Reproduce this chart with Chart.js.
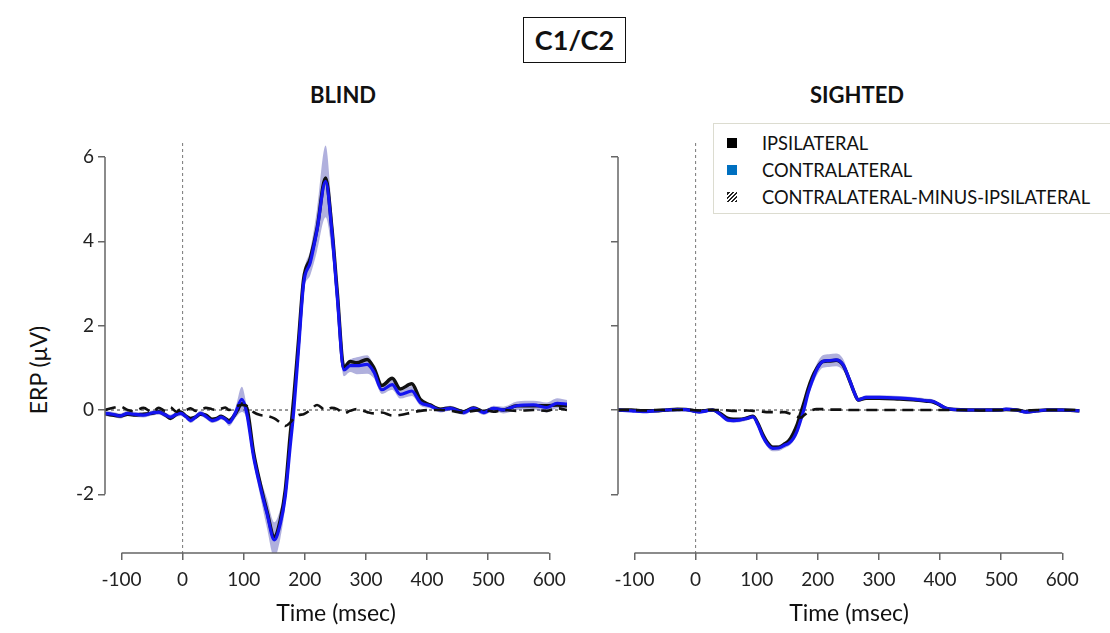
<!DOCTYPE html>
<html>
<head>
<meta charset="utf-8">
<script src="https://cdn.jsdelivr.net/npm/chart.js@4/dist/chart.umd.min.js"></script>
<style>
  body { margin: 0; background: #fff; }
  #wrap { position: relative; width: 1110px; height: 633px; font-family: Lato, sans-serif; color: #111; overflow: hidden; }
  canvas { position: absolute; top: 120px; }
  #blind { left: 0; }
  #sighted { left: 560px; }
  #mainTitle { position: absolute; left: 523px; top: 17px; width: 101px; height: 44px; border: 1.5px solid #111;
    font-weight: bold; font-size: 27px; line-height: 44px; text-align: center; }
  .panelTitle { position: absolute; top: 80px; width: 200px; height: 30px; line-height: 30px; text-align: center;
    font-weight: bold; font-size: 22px; }
  #ylab { position: absolute; left: 38px; top: 370px; transform: translate(-50%, -50%) rotate(-90deg);
    font-size: 23px; white-space: nowrap; }
  #legend { position: absolute; left: 713px; top: 123px; width: 400px; height: 89px; border: 1.5px solid #dcdcd0;
    background: #fff; z-index: 2; }
  .row { position: absolute; left: 0; height: 26px; line-height: 26px; font-size: 18.3px; }
  .row span { position: absolute; left: 48px; white-space: nowrap; }
  .mark { position: absolute; left: 13px; top: 8px; width: 10px; height: 10px; }
</style>
</head>
<body>
<div id="wrap">
  <div id="mainTitle">C1/C2</div>
  <div class="panelTitle" style="left:243px">BLIND</div>
  <div class="panelTitle" style="left:757px">SIGHTED</div>
  <div id="ylab">ERP (μV)</div>
  <canvas id="blind" width="590" height="513"></canvas>
  <canvas id="sighted" width="550" height="513"></canvas>
  <div id="legend">
    <div class="row" style="top:6px"><div class="mark" style="background:#000"></div><span>IPSILATERAL</span></div>
    <div class="row" style="top:33px"><div class="mark" style="background:#0070c0"></div><span>CONTRALATERAL</span></div>
    <div class="row" style="top:60px"><div class="mark" style="background:repeating-linear-gradient(-45deg,#222 0 1.5px,#fff 1.5px 3px)"></div><span>CONTRALATERAL-MINUS-IPSILATERAL</span></div>
  </div>
</div>
<script>
// axis ticks
const xTicks = [-100, 0, 100, 200, 300, 400, 500, 600];
const yTicks = [-2, 0, 2, 4, 6];

// BLIND (ms, µV)
const blindTime = [-127, -115, -102, -90, -80, -64, -50, -39, -28, -20,
  -10, -3, 5, 13, 21, 29, 38, 48, 56, 63,
  70, 76, 86, 97, 105, 116, 127, 138, 150, 160,
  168, 176, 182, 190, 198, 209, 220, 234, 244, 253,
  264, 274, 285, 302, 313, 326, 343, 356, 375, 389,
  405, 422, 438, 460, 476, 493, 509, 525, 547, 574,
  596, 613, 629];
const blindIpsi = [-0.08, -0.12, -0.14, -0.1, -0.12, -0.1, -0.08, -0.04, -0.12, -0.2,
  -0.1, -0.05, -0.14, -0.2, -0.17, -0.1, -0.12, -0.22, -0.2, -0.15,
  -0.2, -0.25, -0.1, 0.15, 0.05, -1.0, -1.75, -2.4, -3.0, -2.6,
  -1.9, -0.6, 0.3, 1.7, 3.1, 3.6, 4.3, 5.5, 4.35, 2.8,
  1.0, 1.15, 1.12, 1.2, 1.0, 0.58, 0.75, 0.5, 0.62, 0.25,
  0.12, 0.02, 0.05, -0.04, 0.05, -0.04, 0.03, 0.0, 0.1, 0.1,
  0.1, 0.12, 0.1];
const blindContra = [-0.08, -0.1, -0.14, -0.08, -0.1, -0.12, -0.07, -0.05, -0.12, -0.17,
  -0.1, -0.08, -0.15, -0.25, -0.17, -0.08, -0.15, -0.25, -0.22, -0.17,
  -0.22, -0.3, -0.08, 0.25, -0.08, -1.1, -1.82, -2.45, -3.08, -2.69,
  -2.05, -0.87, 0.0, 1.5, 3.0, 3.5, 4.27, 5.42, 4.27, 2.69,
  0.95, 1.05, 1.05, 1.08, 0.9, 0.48, 0.6, 0.37, 0.45, 0.18,
  0.1, 0.0, 0.04, -0.06, 0.04, -0.06, 0.04, 0.0, 0.1, 0.12,
  0.06, 0.16, 0.14];
const blindContraSE = [0.06, 0.06, 0.06, 0.06, 0.06, 0.06, 0.06, 0.06, 0.06, 0.06,
  0.06, 0.06, 0.06, 0.06, 0.06, 0.06, 0.06, 0.06, 0.06, 0.06,
  0.06, 0.08, 0.12, 0.3, 0.15, 0.15, 0.22, 0.35, 0.42, 0.35,
  0.22, 0.15, 0.12, 0.15, 0.2, 0.3, 0.5, 0.85, 0.5, 0.3,
  0.15, 0.15, 0.2, 0.22, 0.15, 0.1, 0.12, 0.1, 0.12, 0.08,
  0.06, 0.06, 0.06, 0.06, 0.06, 0.06, 0.06, 0.08, 0.1, 0.1,
  0.12, 0.12, 0.1];
const blindDiff = [0.0, 0.05, 0.08, 0.0, -0.03, 0.05, -0.05, 0.05, -0.02, 0.06,
  -0.04, 0.02, 0.0, 0.04, -0.02, 0.0, 0.05, 0.02, 0.0, 0.03,
  0.06, 0.0, 0.08, 0.12, 0.1, -0.05, -0.12, -0.14, -0.2, -0.3,
  -0.38, -0.3, -0.2, -0.12, -0.1, 0.0, 0.12, 0.0, 0.05, 0.02,
  -0.08, -0.02, 0.02, -0.05, -0.08, -0.06, -0.13, -0.12, -0.06, -0.02,
  0.0, 0.0, -0.02, -0.06, -0.02, 0.0, -0.04, 0.0, -0.02, 0.0,
  -0.02, 0.04, 0.0];

// SIGHTED
const sightedTime = [-127, -105, -86, -65, -48, -30, -16, -5, 6, 18,
  28, 40, 53, 62, 72, 84, 94, 102, 110, 118,
  126, 136, 146, 153, 160, 166, 172, 178, 184, 191,
  198, 208, 218, 230, 241, 252, 260, 266, 279, 300,
  334, 360, 378, 389, 400, 410, 425, 443, 470, 497,
  508, 525, 541, 558, 574, 600, 628];
const sightedIpsi = [0, 0, -0.02, -0.02, 0, 0.02, 0.01, -0.01, -0.03, -0.01,
  0, -0.08, -0.2, -0.22, -0.22, -0.19, -0.15, -0.32, -0.58, -0.78,
  -0.88, -0.88, -0.8, -0.72, -0.55, -0.35, -0.08, 0.2, 0.5, 0.78,
  0.98, 1.15, 1.16, 1.18, 1.07, 0.7, 0.4, 0.24, 0.28, 0.28,
  0.26, 0.24, 0.21, 0.19, 0.11, 0.04, 0.01, 0, 0, 0,
  0.01, 0, -0.04, -0.02, 0, 0, -0.02];
const sightedContra = [0, -0.02, -0.04, -0.02, 0, 0.01, 0.01, -0.02, -0.05, -0.02,
  0, -0.1, -0.24, -0.25, -0.24, -0.2, -0.16, -0.35, -0.63, -0.82,
  -0.91, -0.9, -0.83, -0.78, -0.67, -0.5, -0.24, 0.05, 0.4, 0.7,
  0.95, 1.15, 1.17, 1.19, 1.08, 0.71, 0.4, 0.24, 0.3, 0.3,
  0.28, 0.25, 0.22, 0.2, 0.12, 0.04, 0.01, 0, 0, 0,
  0.02, 0, -0.05, -0.02, 0, 0, -0.02];
const sightedContraSE = [0.03, 0.03, 0.03, 0.03, 0.03, 0.03, 0.03, 0.03, 0.03, 0.03,
  0.03, 0.04, 0.05, 0.05, 0.05, 0.05, 0.05, 0.06, 0.07, 0.07,
  0.07, 0.07, 0.07, 0.07, 0.07, 0.08, 0.08, 0.08, 0.1, 0.12,
  0.14, 0.15, 0.15, 0.15, 0.14, 0.08, 0.06, 0.05, 0.05, 0.05,
  0.05, 0.05, 0.05, 0.05, 0.04, 0.03, 0.03, 0.03, 0.03, 0.03,
  0.03, 0.03, 0.03, 0.03, 0.03, 0.03, 0.03];
const sightedDiff = [0, 0, -0.01, 0, 0, 0, 0.01, 0, -0.01, 0,
  0, 0, -0.01, -0.02, -0.02, -0.01, -0.02, -0.03, -0.04, -0.05,
  -0.05, -0.06, -0.05, -0.08, -0.12, -0.16, -0.18, -0.12, -0.05, 0,
  0.02, 0.02, 0.01, 0.01, 0.01, 0, 0, 0, 0, 0,
  0, 0, 0, 0, 0, 0, 0, 0, -0.01, 0,
  0, 0, -0.01, 0, 0, 0, 0];

function pts(xs, ys) {
    return xs.map((x, i) => ({ x: x, y: ys[i] }));
}

// dotted zero / onset lines + R-style axis spines
const refLines = {
    id: 'refLines',
    beforeDatasetsDraw(chart) {
        const { ctx, chartArea: a, scales: { x, y } } = chart;
        ctx.save();
        ctx.lineWidth = 1;
        ctx.setLineDash([3, 3]);
        ctx.strokeStyle = '#333';
        const y0 = y.getPixelForValue(0);
        ctx.beginPath(); ctx.moveTo(a.left, y0); ctx.lineTo(a.right, y0); ctx.stroke();
        ctx.strokeStyle = '#777';
        const x0 = x.getPixelForValue(0);
        ctx.beginPath(); ctx.moveTo(x0, a.top); ctx.lineTo(x0, a.bottom); ctx.stroke();
        ctx.restore();
    },
    afterDraw(chart) {
        const { ctx, chartArea: a, scales: { x, y } } = chart;
        ctx.save();
        ctx.strokeStyle = '#666';
        ctx.lineWidth = 1.5;
        ctx.beginPath();
        ctx.moveTo(x.getPixelForValue(xTicks[0]), a.bottom);
        ctx.lineTo(x.getPixelForValue(xTicks[xTicks.length - 1]), a.bottom);
        ctx.moveTo(a.left, y.getPixelForValue(yTicks[0]));
        ctx.lineTo(a.left, y.getPixelForValue(yTicks[yTicks.length - 1]));
        ctx.stroke();
        ctx.restore();
    }
};

function makePanel(canvasId, time, ipsi, contra, se, diff, yWidth, padRight, showYLabels) {
    const ctx = document.getElementById(canvasId).getContext('2d');
    const line = { pointRadius: 0, fill: false, cubicInterpolationMode: 'monotone' };
    new Chart(ctx, {
        type: 'line',
        data: {
            datasets: [
                { ...line, data: pts(time, contra.map((v, i) => v + se[i])), borderWidth: 0,
                  borderColor: 'rgba(0,0,0,0)', backgroundColor: 'rgba(80, 80, 180, 0.45)', fill: '+1', order: 4 },
                { ...line, data: pts(time, contra.map((v, i) => v - se[i])), borderWidth: 0,
                  borderColor: 'rgba(0,0,0,0)', order: 4 },
                { ...line, label: 'IPSILATERAL', data: pts(time, ipsi), borderColor: '#111', borderWidth: 3.5, order: 3 },
                { ...line, label: 'CONTRALATERAL', data: pts(time, contra), borderColor: '#1414f0', borderWidth: 3.2, order: 2 },
                { ...line, label: 'CONTRALATERAL-MINUS-IPSILATERAL', data: pts(time, diff), borderColor: '#111',
                  borderWidth: 2.6, borderDash: [11, 7], order: 1 }
            ]
        },
        options: {
            responsive: false,
            animation: false,
            layout: { padding: { top: 23, right: padRight, bottom: 0, left: 0 } },
            scales: {
                x: {
                    type: 'linear',
                    min: -127,
                    max: 629,
                    afterBuildTicks: s => { s.ticks = xTicks.map(v => ({ value: v })); },
                    afterFit: s => { s.height = 80; },
                    border: { display: false },
                    grid: { drawOnChartArea: false, drawTicks: true, tickLength: 7, color: '#666', lineWidth: 1.5 },
                    ticks: { color: '#222', font: { size: 19 }, padding: 8, maxRotation: 0 },
                    title: { display: true, text: 'Time (msec)', color: '#111', font: { size: 23 }, padding: { top: 0, bottom: 6 } }
                },
                y: {
                    min: -3.39,
                    max: 6.33,
                    afterBuildTicks: s => { s.ticks = yTicks.map(v => ({ value: v })); },
                    afterFit: s => { s.width = yWidth; },
                    border: { display: false },
                    grid: { drawOnChartArea: false, drawTicks: true, tickLength: 7, color: '#666', lineWidth: 1.5 },
                    ticks: { display: showYLabels, color: '#222', font: { size: 19 }, padding: 4 }
                }
            },
            plugins: {
                legend: { display: false },
                tooltip: { enabled: false }
            }
        },
        plugins: [refLines]
    });
}

function draw() {
    Chart.defaults.font.family = 'Lato, sans-serif';
    makePanel('blind', blindTime, blindIpsi, blindContra, blindContraSE, blindDiff, 105, 23, true);
    makePanel('sighted', sightedTime, sightedIpsi, sightedContra, sightedContraSE, sightedDiff, 58, 30, false);
}

document.fonts.load('19px Lato').then(draw, draw);
</script>
</body>
</html>
